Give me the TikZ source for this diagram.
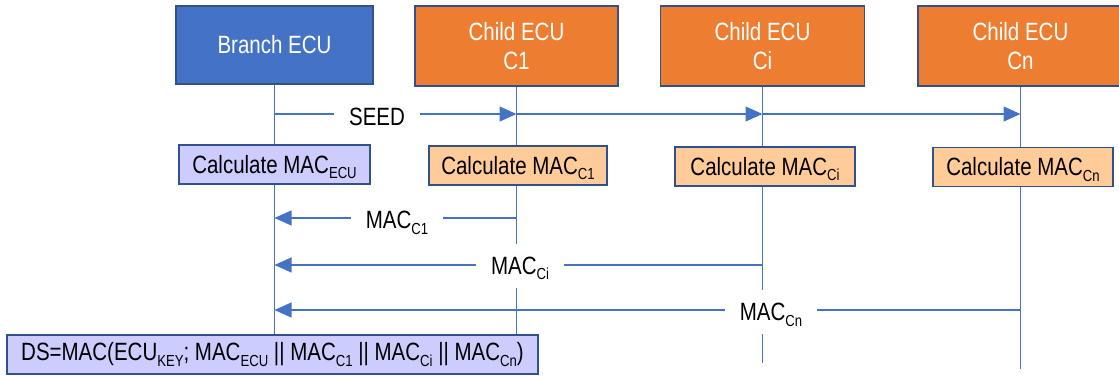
\documentclass[tikz,border=0pt]{standalone}
\usepackage{fontspec}
\setmainfont{Liberation Sans}[FakeStretch=0.82]
\usetikzlibrary{arrows.meta}

\definecolor{ecublue}{HTML}{4472C4}
\definecolor{edgeblue}{HTML}{2F528F}
\definecolor{childorange}{HTML}{ED7D31}
\definecolor{lavender}{HTML}{CCCCFF}
\definecolor{peach}{HTML}{FFCC99}

% lowered index that does not change the line height
\newcommand\sbs[1]{\raisebox{-5.5pt}[0pt][0pt]{\fontsize{16}{16}\selectfont #1}}

\begin{document}
\begin{tikzpicture}[x=1pt,y=-1pt,
  every node/.style={font=\fontsize{25}{29}\selectfont, inner sep=0pt},
  ecu/.style={draw=edgeblue, line width=1.6pt, minimum height=79pt,
              text=white, align=center},
  calcbox/.style={draw=edgeblue, line width=1.3pt, minimum height=39pt},
  lifeline/.style={draw=ecublue, line width=1.1pt},
  msg/.style={draw=ecublue, line width=1.1pt,
              -{Triangle[length=17pt,width=15pt,fill=ecublue]}},
  msglabel/.style={fill=white, inner xsep=15pt, minimum height=44pt}]

\useasboundingbox (0,0) rectangle (1119,377);

% participants
\node[ecu, fill=ecublue, minimum width=197pt, minimum height=78pt] (branch) at (274.5,45) {Branch ECU};
\node[ecu, fill=childorange, minimum width=203pt, minimum height=80pt] (c1) at (516.5,46) {Child ECU\\C1};
\node[ecu, fill=childorange, minimum width=204pt, minimum height=80pt] (ci) at (762.5,46) {Child ECU\\Ci};
\node[ecu, fill=childorange, minimum width=205pt, minimum height=80pt] (cn) at (1020.5,46) {Child ECU\\Cn};

% message rows and lifeline ends
\coordinate (seedrow) at (0,114);
\coordinate (row1) at (0,218);
\coordinate (row2) at (0,265);
\coordinate (row3) at (0,310);
\coordinate (ciend) at (762.5,363);
\coordinate (cnend) at (1020.5,369);

% final signature box
\node[calcbox, fill=lavender, minimum width=531pt] (ds) at (272.5,354.5)
  {DS=MAC(ECU\sbs{KEY}; MAC\sbs{ECU} || MAC\sbs{C1} || MAC\sbs{Ci} || MAC\sbs{Cn})};

% lifelines
\draw[lifeline] (branch.south) -- (branch.south |- ds.north);
\draw[lifeline] (c1.south) -- (c1.south |- ds.north);
\draw[lifeline] (ci.south) -- (ciend);
\draw[lifeline] (cn.south) -- (cnend);

% seed distribution
\draw[msg] (branch.south |- seedrow) -- (c1.south |- seedrow);
\draw[msg] (c1.south |- seedrow) -- (ci.south |- seedrow);
\draw[msg] (ci.south |- seedrow) -- (cn.south |- seedrow);

% MAC computations
\node[calcbox, fill=lavender, minimum width=191pt] (calcb) at (274.5,164.5) {Calculate MAC\sbs{ECU}};
\node[calcbox, fill=peach, minimum width=178pt] (calc1) at (518,165.5) {Calculate MAC\sbs{C1}};
\node[calcbox, fill=peach, minimum width=180pt] (calci) at (765,166.5) {Calculate MAC\sbs{Ci}};
\node[calcbox, fill=peach, minimum width=180pt] (calcn) at (1023,167) {Calculate MAC\sbs{Cn}};

% MACs returned to the branch ECU
\draw[msg] (c1.south |- row1) -- (branch.south |- row1);
\draw[msg] (ci.south |- row2) -- (branch.south |- row2);
\draw[msg] (cn.south |- row3) -- (branch.south |- row3);

% message labels
\node[msglabel] (seedlbl) at (377,116.5) {SEED};
\node[msglabel] (mac1lbl) at (397,220) {MAC\sbs{C1}};
\node[msglabel] (macilbl) at (520,265.5) {MAC\sbs{Ci}};
\node[msglabel] (macnlbl) at (771,312) {MAC\sbs{Cn}};

\end{tikzpicture}
\end{document}
